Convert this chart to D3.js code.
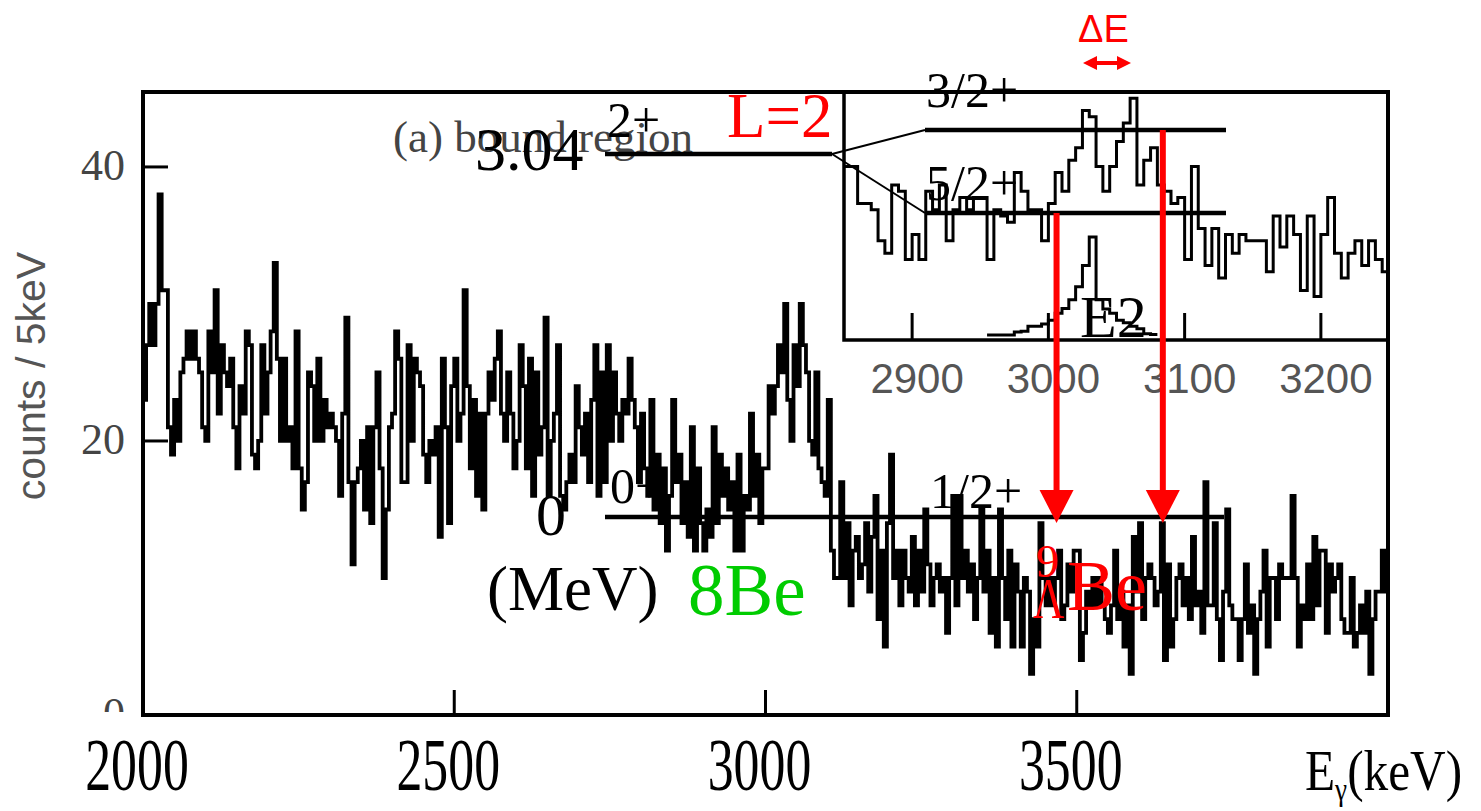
<!DOCTYPE html>
<html lang="en">
<head>
<meta charset="UTF-8">
<title>9ΛBe gamma-ray spectrum</title>
<script src="https://d3js.org/d3.v7.min.js"></script>
<style>
  body { margin: 0; background: #fff; }
  svg { display: block; }
</style>
</head>
<body>
<svg id="chart" width="1481" height="811"></svg>
<script>
// main spectrum: 5 keV bins from 2000 keV
const mainStart = 2000;
const binWidth = 5;
const mainCounts = [
  23,27,30,27,30,38,31,31,21,19, 23,20,25,26,28,26,28,26,25,21,
  20,28,25,31,22,27,25,24,26,21, 18,24,22,28,27,19,18,20,27,22,
  25,28,33,26,20,26,20,21,18,28, 18,15,17,25,24,20,26,20,23,21,
  22,21,20,16,22,29,17,11,17,18, 20,15,21,14,21,25,18,10,15,21,
  22,28,26,17,17,27,20,26,25,24, 19,17,20,19,21,13,26,21,14,24,
  26,20,22,31,24,18,23,16,22,15, 22,25,23,26,28,22,20,25,22,18,
  20,27,24,18,26,16,25,19,21,29, 16,20,22,27,16,15,17,19,17,24,
  21,19,22,17,23,27,16,25,17,27, 20,25,22,20,23,22,26,23,21,17,
  22,18,16,23,15,19,14,18,12,16, 23,17,19,14,17,13,21,12,18,14,
  12,15,13,21,14,19,16,18,15,17, 12,19,12,16,15,22,16,19,14,18,
  18,24,22,24,27,25,30,23,20,27, 24,30,27,25,20,19,25,18,17,16,
  23,12,10,10,17,10,14,8,12,13,  10,11,14,9,13,16,7,12,5,14,
  19,10,12,8,12,10,9,13,8,12,    9,15,11,8,10,11,9,10,6,10,
  16,8,16,10,12,9,11,7,10,15,    9,12,6,10,5,15,10,7,12,5,
  11,9,5,10,9,3,7,5,14,10,       8,10,8,10,12,7,8,11,9,12,
  12,4,6,9,8,10,8,10,8,7,        6,8,12,7,9,5,8,3,13,9,
  14,7,10,11,10,8,9,14,4,11,     5,7,10,11,8,10,7,13,8,9,
  6,17,8,8,14,7,4,9,15,8,        7,7,4,7,11,6,8,3,7,9,
  12,5,10,10,7,11,10,10,10,16,   10,5,8,7,11,7,13,8,12,12,
  6,11,9,10,11,7,6,6,10,5,       6,8,6,9,3,7,9,9,12,9
];
const xTicksMain = [2000, 2500, 3000, 3500];
const yTicksMain = [0, 20, 40];

// inset: bound region 2850-3250 keV, 5 keV bins
const insetStart = 2850;
const insetCounts = [
  28,28,22,22,21,16,14,25,24,13, 17,13,24,21,25,16,21,23,21,23,
  23,13,21,20,19,27,24,21,21,16, 22,27,24,29,31,37,36,28,24,28,
  32,35,39,25,29,31,25,24,22,23, 13,28,18,12,18,10,17,14,17,16,
  16,16,11,20,15,20,17,8,20,7,   17,23,14,10,14,16,12,16,13,11
];
// simulated E2 line shape
const e2Start = 2955;
const e2Counts = [0.8,0.8,0.8,0.8,1.3,1.4,2.2,2.2,2.6,3.2,4.3,5.1,6.5,8.6,12,16.6,6.5,5,4.3,3.2,2.8,2.2,1.8,1.0,0.9];
const insetTicks = [2900, 3000, 3100, 3200];
// gamma transitions marked by red arrows (keV, inset axis)
const arrowE = [3006, 3084];

const svg = d3.select("#chart");
const serif = '"Liberation Serif", "Times New Roman", serif';
const sans = '"Liberation Sans", Arial, sans-serif';

// ---------- main frame ----------
const x = d3.scaleLinear().domain([2000, 4000]).range([143, 1388]);
const y = d3.scaleLinear().domain([0, 45.47]).range([715, 92]);

const defs = svg.append("defs");
defs.append("clipPath").attr("id", "mainClip")
  .append("rect").attr("x", 143).attr("y", 92).attr("width", 1245).attr("height", 623);
defs.append("clipPath").attr("id", "labelClip")
  .append("rect").attr("x", 0).attr("y", 0).attr("width", 143).attr("height", 712);

function stepPoints(start, counts) {
  const pts = counts.map((c, i) => [start + i * binWidth, c]);
  pts.push([start + counts.length * binWidth, counts[counts.length - 1]]);
  return pts;
}

const mainLine = d3.line()
  .x(d => x(d[0])).y(d => y(d[1]))
  .curve(d3.curveStepAfter);

svg.append("path")
  .datum(stepPoints(mainStart, mainCounts))
  .attr("clip-path", "url(#mainClip)")
  .attr("d", mainLine)
  .attr("fill", "none")
  .attr("stroke", "#000")
  .attr("stroke-width", 3.8);

// ticks (inside)
svg.selectAll(".xt").data(xTicksMain.filter(t => t > 2000)).enter()
  .append("line")
  .attr("x1", d => x(d)).attr("x2", d => x(d))
  .attr("y1", 715).attr("y2", 690)
  .attr("stroke", "#000").attr("stroke-width", 3);
svg.selectAll(".yt").data(yTicksMain.filter(t => t > 0)).enter()
  .append("line")
  .attr("x1", 143).attr("x2", 168)
  .attr("y1", d => y(d)).attr("y2", d => y(d))
  .attr("stroke", "#000").attr("stroke-width", 3);

// y tick labels (grey)
svg.append("g").attr("clip-path", "url(#labelClip)")
  .selectAll("text").data(yTicksMain).enter()
  .append("text")
  .attr("x", 125).attr("y", d => y(d) + 13)
  .attr("text-anchor", "end")
  .style("font-family", serif).style("font-size", "44px")
  .attr("fill", "#444")
  .text(d => d);

// x tick labels (condensed)
svg.selectAll(".xl").data(xTicksMain).enter()
  .append("text")
  .attr("transform", d => `translate(${x(d) - 6},790) scale(0.7,1)`)
  .attr("text-anchor", "middle")
  .style("font-family", serif).style("font-size", "74px")
  .text(d => d);

const xt = svg.append("text")
  .attr("transform", "translate(1305,790) scale(0.85,1)")
  .style("font-family", serif).style("font-size", "58px");
xt.append("tspan").text("E");
xt.append("tspan").attr("dy", 10).style("font-size", "32px").text("γ");
xt.append("tspan").attr("dy", -10).text("(keV)");

svg.append("text")
  .attr("transform", "translate(45,376) rotate(-90)")
  .attr("text-anchor", "middle")
  .style("font-family", sans).style("font-size", "41px")
  .attr("fill", "#555")
  .text("counts / 5keV");

svg.append("text")
  .attr("x", 393).attr("y", 152)
  .style("font-family", serif).style("font-size", "45px")
  .attr("fill", "#444")
  .text("(a) bound region");

// ---------- inset ----------
const xi = d3.scaleLinear().domain([2850, 3250]).range([844, 1389]);
const yi = d3.scaleLinear().domain([0, 40]).range([340, 92]);

svg.append("rect")
  .attr("x", 844).attr("y", 92).attr("width", 544).attr("height", 248)
  .attr("fill", "#fff");
defs.append("clipPath").attr("id", "insetClip")
  .append("rect").attr("x", 844).attr("y", 92).attr("width", 544).attr("height", 248);

const insetLine = d3.line()
  .x(d => xi(d[0])).y(d => yi(d[1]))
  .curve(d3.curveStepAfter);

svg.append("path")
  .datum(stepPoints(insetStart, insetCounts))
  .attr("clip-path", "url(#insetClip)")
  .attr("d", insetLine)
  .attr("fill", "none").attr("stroke", "#000").attr("stroke-width", 3);

svg.append("path")
  .datum(stepPoints(e2Start, e2Counts))
  .attr("clip-path", "url(#insetClip)")
  .attr("d", insetLine)
  .attr("fill", "none").attr("stroke", "#000").attr("stroke-width", 3);

svg.selectAll(".it").data(insetTicks).enter()
  .append("line")
  .attr("x1", d => xi(d)).attr("x2", d => xi(d))
  .attr("y1", 340).attr("y2", 313)
  .attr("stroke", "#000").attr("stroke-width", 3);

svg.selectAll(".il").data(insetTicks).enter()
  .append("text")
  .attr("x", d => xi(d) + 5).attr("y", 393)
  .attr("text-anchor", "middle")
  .style("font-family", sans).style("font-size", "42px")
  .attr("fill", "#555")
  .text(d => d);

svg.append("text")
  .attr("x", 1080).attr("y", 337)
  .style("font-family", serif).style("font-size", "60px")
  .text("E2");

svg.append("rect")
  .attr("x", 844).attr("y", 92).attr("width", 544).attr("height", 248)
  .attr("fill", "none").attr("stroke", "#000").attr("stroke-width", 3.5);

// main frame on top
svg.append("rect")
  .attr("x", 143).attr("y", 92).attr("width", 1245).attr("height", 623)
  .attr("fill", "none").attr("stroke", "#000").attr("stroke-width", 4);

// ---------- level scheme ----------
const lv = svg.append("g").attr("stroke", "#000");
lv.append("line").attr("x1", 605).attr("x2", 832).attr("y1", 154).attr("y2", 154).attr("stroke-width", 4.5);
lv.append("line").attr("x1", 925).attr("x2", 1226).attr("y1", 130).attr("y2", 130).attr("stroke-width", 4.5);
lv.append("line").attr("x1", 925).attr("x2", 1226).attr("y1", 213).attr("y2", 213).attr("stroke-width", 4.5);
lv.append("line").attr("x1", 605).attr("x2", 1224).attr("y1", 517).attr("y2", 517).attr("stroke-width", 4.5);
lv.append("line").attr("x1", 832).attr("x2", 925).attr("y1", 154).attr("y2", 130).attr("stroke-width", 2);
lv.append("line").attr("x1", 832).attr("x2", 925).attr("y1", 154).attr("y2", 213).attr("stroke-width", 2);

function label(txt, lx, ly, size, color) {
  return svg.append("text").attr("x", lx).attr("y", ly)
    .style("font-family", serif).style("font-size", size + "px")
    .attr("fill", color || "#000").text(txt);
}
label("3.04", 475, 170, 62);
label("2+", 607, 137, 50);
label("L=2", 727, 137, 63, "#ff0000");
label("0", 536, 535, 60);
label("0+", 610, 503, 50);
label("(MeV)", 487, 610, 63);
label("8Be", 688, 615, 73, "#00cc00");
label("3/2+", 926, 107, 50);
label("5/2+", 926, 200, 50);
label("1/2+", 930, 508, 50);
label("9", 1036, 577, 46, "#ff0000");
svg.append("text").attr("transform", "translate(1033,618) scale(0.75,1)")
  .style("font-family", serif).style("font-size", "58px")
  .attr("fill", "#ff0000").text("Λ");
label("Be", 1067, 610, 72, "#ff0000");

// red transition arrows
const arrowTop = [213, 130];
arrowE.forEach((e, i) => {
  const ax = xi(e);
  svg.append("line")
    .attr("x1", ax).attr("x2", ax).attr("y1", arrowTop[i]).attr("y2", 495)
    .attr("stroke", "#ff0000").attr("stroke-width", 6);
  svg.append("path")
    .attr("d", `M${ax - 17},490 L${ax + 17},490 L${ax},523 Z`)
    .attr("fill", "#ff0000");
});

// ΔE marker
svg.append("text")
  .attr("x", 1078).attr("y", 42)
  .style("font-family", sans).style("font-size", "38px")
  .attr("fill", "#ff0000").text("ΔE");
svg.append("line")
  .attr("x1", 1094).attr("x2", 1120).attr("y1", 63).attr("y2", 63)
  .attr("stroke", "#ff0000").attr("stroke-width", 4);
svg.append("path").attr("d", "M1083,63 L1097,56 L1097,70 Z").attr("fill", "#ff0000");
svg.append("path").attr("d", "M1131,63 L1117,56 L1117,70 Z").attr("fill", "#ff0000");
</script>
</body>
</html>
